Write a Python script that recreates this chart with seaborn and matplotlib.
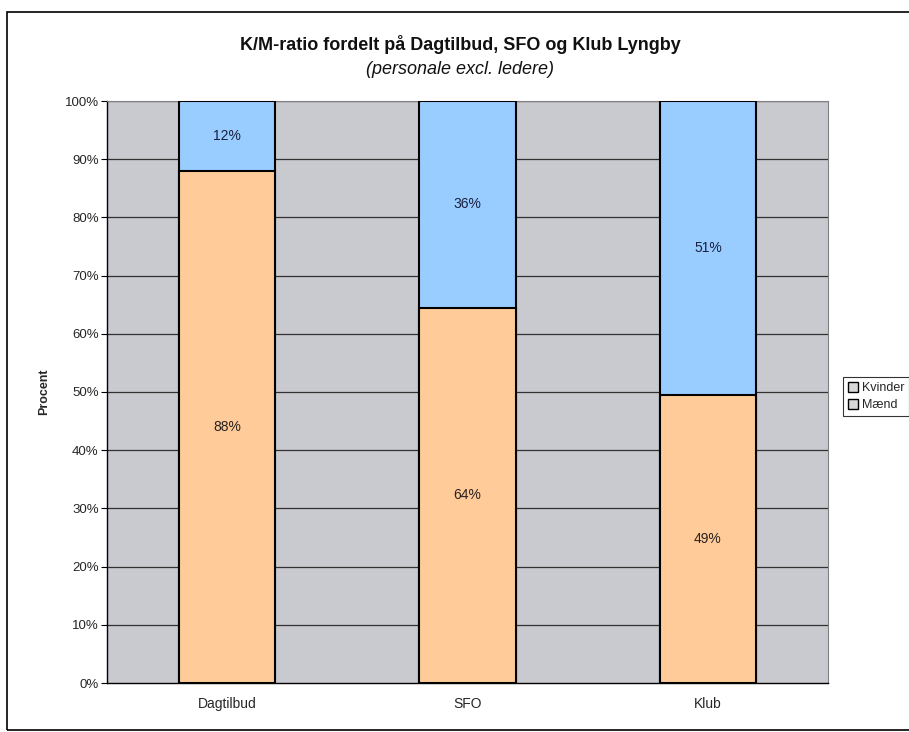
import matplotlib
matplotlib.use("Agg")
import matplotlib.pyplot as plt
from matplotlib.patches import Rectangle, Patch
import seaborn as sns
import pandas as pd

categories = ["Dagtilbud", "SFO", "Klub"]
maend = [88, 64.5, 49.5]
kvinder = [12, 35.5, 50.5]
label_maend = ["88%", "64%", "49%"]
label_kvinder = ["12%", "36%", "51%"]
yticks = [0, 10, 20, 30, 40, 50, 60, 70, 80, 90, 100]

sns.set_theme(style="white")
plt.rcParams['font.family'] = ['Liberation Sans', 'DejaVu Sans']

df = pd.DataFrame({"kategori": categories, "Mænd": maend, "Kvinder": kvinder})
df["total"] = df["Mænd"] + df["Kvinder"]

fig = plt.figure(figsize=(9.09, 7.32), dpi=100)
fig.patch.set_facecolor("white")
ax = fig.add_axes([107/909, 1-683/732, (828-107)/909, (683-101)/732])
ax.set_facecolor("#c9c9d0")

blue = "#99CCFF"
orange = "#FFCC99"
sns.barplot(data=df, x="kategori", y="total", color=blue, width=0.4,
            edgecolor="black", linewidth=1.5, saturation=1, ax=ax, zorder=3)
sns.barplot(data=df, x="kategori", y="Mænd", color=orange, width=0.4,
            edgecolor="black", linewidth=1.5, saturation=1, ax=ax, zorder=4)

for i in range(len(categories)):
    ax.text(i, maend[i] / 2, label_maend[i], ha="center", va="center",
            fontsize=10, color="#2a2020", zorder=6)
    ax.text(i, maend[i] + kvinder[i] / 2, label_kvinder[i], ha="center", va="center",
            fontsize=10, color="#1a2040", zorder=6)

ax.set_xlim(-0.5, len(categories) - 0.5)
ax.set_ylim(0, 100)
ax.set_yticks(yticks)
ax.set_yticklabels([f"{v}%" for v in yticks], fontsize=9.5)
for v in yticks[1:]:
    ax.axhline(v, color="#303030", linewidth=0.9, zorder=1)

ax.set_xticks(range(len(categories)))
ax.set_xticklabels(categories, fontsize=10)
ax.set_xticks([0.5, 1.5], minor=True)
ax.tick_params(axis="x", which="major", length=0, pad=10)
ax.tick_params(axis="x", which="minor", length=4, direction="out", color="black", width=0.8)
ax.tick_params(axis="y", which="major", length=4, direction="out", color="black", width=0.8, pad=2, left=True)
ax.set_xlabel("")
ax.set_ylabel("Procent", fontsize=9, fontweight="bold")
ax.yaxis.set_label_coords((50 - 107) / 721, 0.5)

for s in ["left", "bottom"]:
    ax.spines[s].set_color("black")
    ax.spines[s].set_linewidth(1.0)
for s in ["top", "right"]:
    ax.spines[s].set_color("#808080")
    ax.spines[s].set_linewidth(0.8)

fig.text(460/909, 1-45/732, "K/M-ratio fordelt på Dagtilbud, SFO og Klub Lyngby",
         ha="center", va="center", fontsize=13, fontweight="bold", color="#111111")
fig.text(460/909, 1-70/732, "(personale excl. ledere)",
         ha="center", va="center", fontsize=13, fontstyle="italic", color="#111111")

handles = [Patch(facecolor="#d8d8d8", edgecolor="black", linewidth=1.0, label="Kvinder"),
           Patch(facecolor="#d8d8d8", edgecolor="black", linewidth=1.0, label="Mænd")]
leg = fig.legend(handles=handles, loc="upper left", bbox_to_anchor=(843/909, 1-377/732),
                 fontsize=9, frameon=True, fancybox=False, handlelength=0.8,
                 handleheight=0.8, handletextpad=0.3, borderpad=0.4, labelspacing=0.4,
                 borderaxespad=0)
leg.get_frame().set_edgecolor("black")
leg.get_frame().set_linewidth(0.8)

fig.patches.append(Rectangle((7/909, 0.003), 1.2, 1 - 12/732 - 0.003, transform=fig.transFigure,
                             fill=False, edgecolor="black", linewidth=1.2))

fig.savefig("out.png", dpi=100, facecolor="white")
